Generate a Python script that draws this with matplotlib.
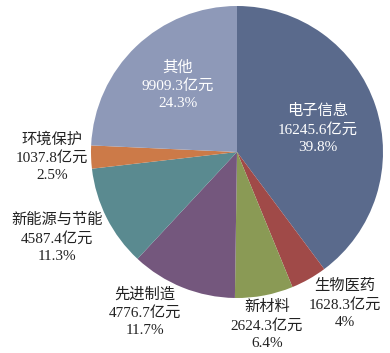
import matplotlib
matplotlib.use("Agg")
import matplotlib.pyplot as plt

# 各产业产值(亿元)及占比
categories = ["电子信息", "生物医药", "新材料", "先进制造", "新能源与节能", "环境保护", "其他"]
values = [16245.6, 1628.3, 2624.3, 4776.7, 4587.4, 1037.8, 9909.3]
shares = ["39.8%", "4%", "6.4%", "11.7%", "11.3%", "2.5%", "24.3%"]
colors = ["#5a6a8c", "#a04a48", "#8a9a55", "#74577d", "#5a8a90", "#cc7a48", "#8e99b8"]

# 标签中心位置 (像素, 相对于图片左上角)
label_px = [(318, 129), (345, 304), (267, 325), (145, 312), (57, 238), (52, 157), (178, 85)]
text_colors = ["white", "#222222", "#222222", "#222222", "#222222", "#222222", "white"]

cx, cy, r = 237, 152, 146  # 饼图圆心和半径(像素)

fig = plt.figure(figsize=(3.9, 3.53), dpi=100)
ax = fig.add_axes([0, 0, 1, 1])
ax.pie(values, colors=colors, startangle=90, counterclock=False, radius=1,
       wedgeprops=dict(linewidth=0))
ax.set_xlim((0 - cx) / r, (390 - cx) / r)
ax.set_ylim((cy - 353) / r, (cy - 0) / r)
ax.set_aspect("equal")
ax.axis("off")

for name, v, s, (px, py), tc in zip(categories, values, shares, label_px, text_colors):
    x = (px - cx) / r
    y = (cy - py) / r
    ax.text(x, y, f"{name}\n{v:.1f}亿元\n{s}", ha="center", va="center",
            fontsize=11, color=tc, linespacing=1.4,
            family=["Liberation Serif", "Noto Sans CJK SC"])

fig.savefig("out.png", dpi=100, facecolor="white")
